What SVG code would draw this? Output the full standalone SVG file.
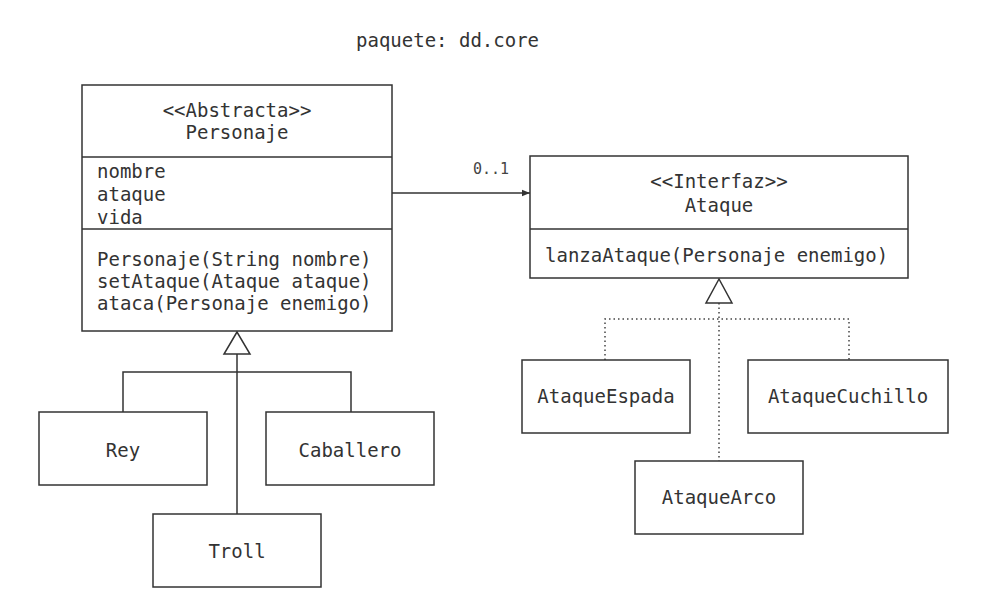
<svg xmlns="http://www.w3.org/2000/svg" width="986" height="612" viewBox="0 0 986 612">
  <defs>
    <style>
      .box { fill: #ffffff; stroke: #333333; stroke-width: 1.5; }
      .sep { stroke: #333333; stroke-width: 1.5; fill: none; }
      .t { font-family: "DejaVu Sans Mono", "Liberation Mono", monospace; font-size: 19px; fill: #333333; }
      .c { text-anchor: middle; }
      .small { font-family: "DejaVu Sans Mono", "Liberation Mono", monospace; font-size: 15px; fill: #444444; }
      .solid { stroke: #333333; stroke-width: 1.5; fill: none; }
      .dotted { stroke: #444444; stroke-width: 1.5; fill: none; stroke-dasharray: 1.5 3; }
      .tri { fill: #ffffff; stroke: #333333; stroke-width: 1.5; }
    </style>
    <marker id="arrow" viewBox="0 0 10 10" refX="10" refY="5" markerWidth="8" markerHeight="8" markerUnits="userSpaceOnUse" orient="auto">
      <path d="M0,1 L10,5 L0,9 Z" fill="#333333"/>
    </marker>
  </defs>
  <rect width="986" height="612" fill="#ffffff"/>

  <text class="t" x="356" y="47">paquete: dd.core</text>

  <g id="connectors">
    <line class="solid" x1="392" y1="193" x2="530" y2="193" marker-end="url(#arrow)"/>
    <text class="small" x="473" y="174">0..1</text>

    <line class="solid" x1="237" y1="354" x2="237" y2="514"/>
    <polyline class="solid" points="123,412 123,372 351,372 351,412"/>
    <polygon class="tri" points="237,332 224,354 250,354"/>

    <line class="dotted" x1="719" y1="303" x2="719" y2="461"/>
    <polyline class="dotted" points="605,360 605,319 849,319 849,360"/>
    <polygon class="tri" points="719,279 706,303 732,303"/>
  </g>

  <g id="personaje">
    <rect class="box" x="82" y="85" width="310" height="246"/>
    <line class="sep" x1="82" y1="157" x2="392" y2="157"/>
    <line class="sep" x1="82" y1="229" x2="392" y2="229"/>
    <text class="t c" x="237" y="117">&lt;&lt;Abstracta&gt;&gt;</text>
    <text class="t c" x="237" y="139">Personaje</text>
    <text class="t" x="97" y="178">nombre</text>
    <text class="t" x="97" y="201">ataque</text>
    <text class="t" x="97" y="224">vida</text>
    <text class="t" x="97" y="266">Personaje(String nombre)</text>
    <text class="t" x="97" y="288">setAtaque(Ataque ataque)</text>
    <text class="t" x="97" y="310">ataca(Personaje enemigo)</text>
  </g>

  <g id="ataque">
    <rect class="box" x="530" y="156" width="378" height="122"/>
    <line class="sep" x1="530" y1="229" x2="908" y2="229"/>
    <text class="t c" x="719" y="188">&lt;&lt;Interfaz&gt;&gt;</text>
    <text class="t c" x="719" y="212">Ataque</text>
    <text class="t" x="545" y="262">lanzaAtaque(Personaje enemigo)</text>
  </g>

  <g id="rey">
    <rect class="box" x="39" y="412" width="168" height="73"/>
    <text class="t c" x="123" y="457">Rey</text>
  </g>

  <g id="caballero">
    <rect class="box" x="266" y="412" width="168" height="73"/>
    <text class="t c" x="350" y="457">Caballero</text>
  </g>

  <g id="troll">
    <rect class="box" x="153" y="514" width="168" height="73"/>
    <text class="t c" x="237" y="558">Troll</text>
  </g>

  <g id="ataqueEspada">
    <rect class="box" x="522" y="360" width="168" height="73"/>
    <text class="t c" x="606" y="403">AtaqueEspada</text>
  </g>

  <g id="ataqueCuchillo">
    <rect class="box" x="748" y="360" width="200" height="73"/>
    <text class="t c" x="848" y="403">AtaqueCuchillo</text>
  </g>

  <g id="ataqueArco">
    <rect class="box" x="635" y="461" width="168" height="73"/>
    <text class="t c" x="719" y="504">AtaqueArco</text>
  </g>
</svg>
